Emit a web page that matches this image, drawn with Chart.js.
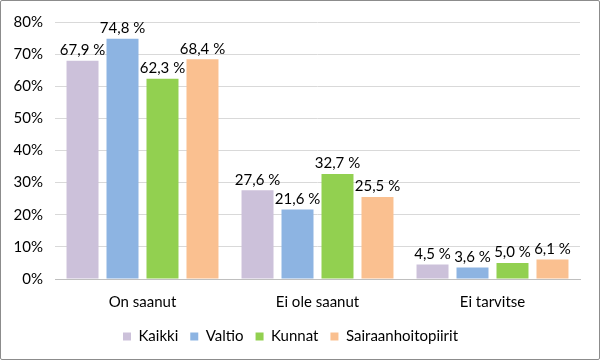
<!DOCTYPE html>
<html>
<head>
<meta charset="utf-8">
<script src="https://cdn.jsdelivr.net/npm/chart.js@4"></script>
<style>
  body { margin: 0; background: #fff; }
  #wrap { width: 598px; height: 358px; border: 1px solid #8c8c8c; border-radius: 2px; }
</style>
</head>
<body>
<div id="wrap"><canvas id="grafico" width="598" height="358"></canvas></div>
<script>
const categories = ['On saanut', 'Ei ole saanut', 'Ei tarvitse'];
const seriesNames = ['Kaikki', 'Valtio', 'Kunnat', 'Sairaanhoitopiirit'];
const kaikki = [67.9, 27.6, 4.5];
const valtio = [74.8, 21.6, 3.6];
const kunnat = [62.3, 32.7, 5.0];
const sairaanhoitopiirit = [68.4, 25.5, 6.1];
const colors = ['#CCC1DA', '#8DB4E2', '#92D050', '#FAC090'];

Chart.defaults.font.family = 'Lato, "Open Sans", sans-serif';
Chart.defaults.color = '#000';

// arvot palkkien päälle
const labelsPlugin = {
  id: 'arvot',
  afterDatasetsDraw(chart) {
    const c = chart.ctx;
    c.save();
    c.font = '15px Lato, "Open Sans", sans-serif';
    c.fillStyle = '#000';
    c.textAlign = 'center';
    c.textBaseline = 'bottom';
    chart.data.datasets.forEach((ds, i) => {
      chart.getDatasetMeta(i).data.forEach((bar, j) => {
        const txt = ds.data[j].toFixed(1).replace('.', ',') + ' %';
        c.fillText(txt, bar.x, bar.y - 3);
      });
    });
    c.restore();
  }
};

const ctx = document.getElementById('grafico').getContext('2d');
new Chart(ctx, {
  type: 'bar',
  data: {
    labels: categories,
    datasets: [kaikki, valtio, kunnat, sairaanhoitopiirit].map((d, i) => ({
      label: seriesNames[i],
      data: d,
      backgroundColor: colors[i],
      categoryPercentage: 0.914,
      barPercentage: 0.8
    }))
  },
  options: {
    responsive: false,
    animation: false,
    layout: { padding: { top: 4, right: 19, left: 0, bottom: 5 } },
    plugins: {
      legend: {
        position: 'bottom',
        labels: { boxWidth: 8, boxHeight: 8, font: { size: 15 }, padding: 12 }
      },
      tooltip: { enabled: false }
    },
    scales: {
      x: {
        grid: { display: false },
        border: { color: '#BFBFBF' },
        ticks: { font: { size: 15 }, padding: 6 }
      },
      y: {
        min: 0,
        max: 80,
        ticks: { stepSize: 10, font: { size: 15 }, padding: 12, callback: v => v + '%' },
        grid: { color: '#D9D9D9', drawTicks: false },
        border: { display: false },
        afterFit: s => { s.width = 54; }
      }
    }
  },
  plugins: [labelsPlugin]
});
</script>
</body>
</html>
